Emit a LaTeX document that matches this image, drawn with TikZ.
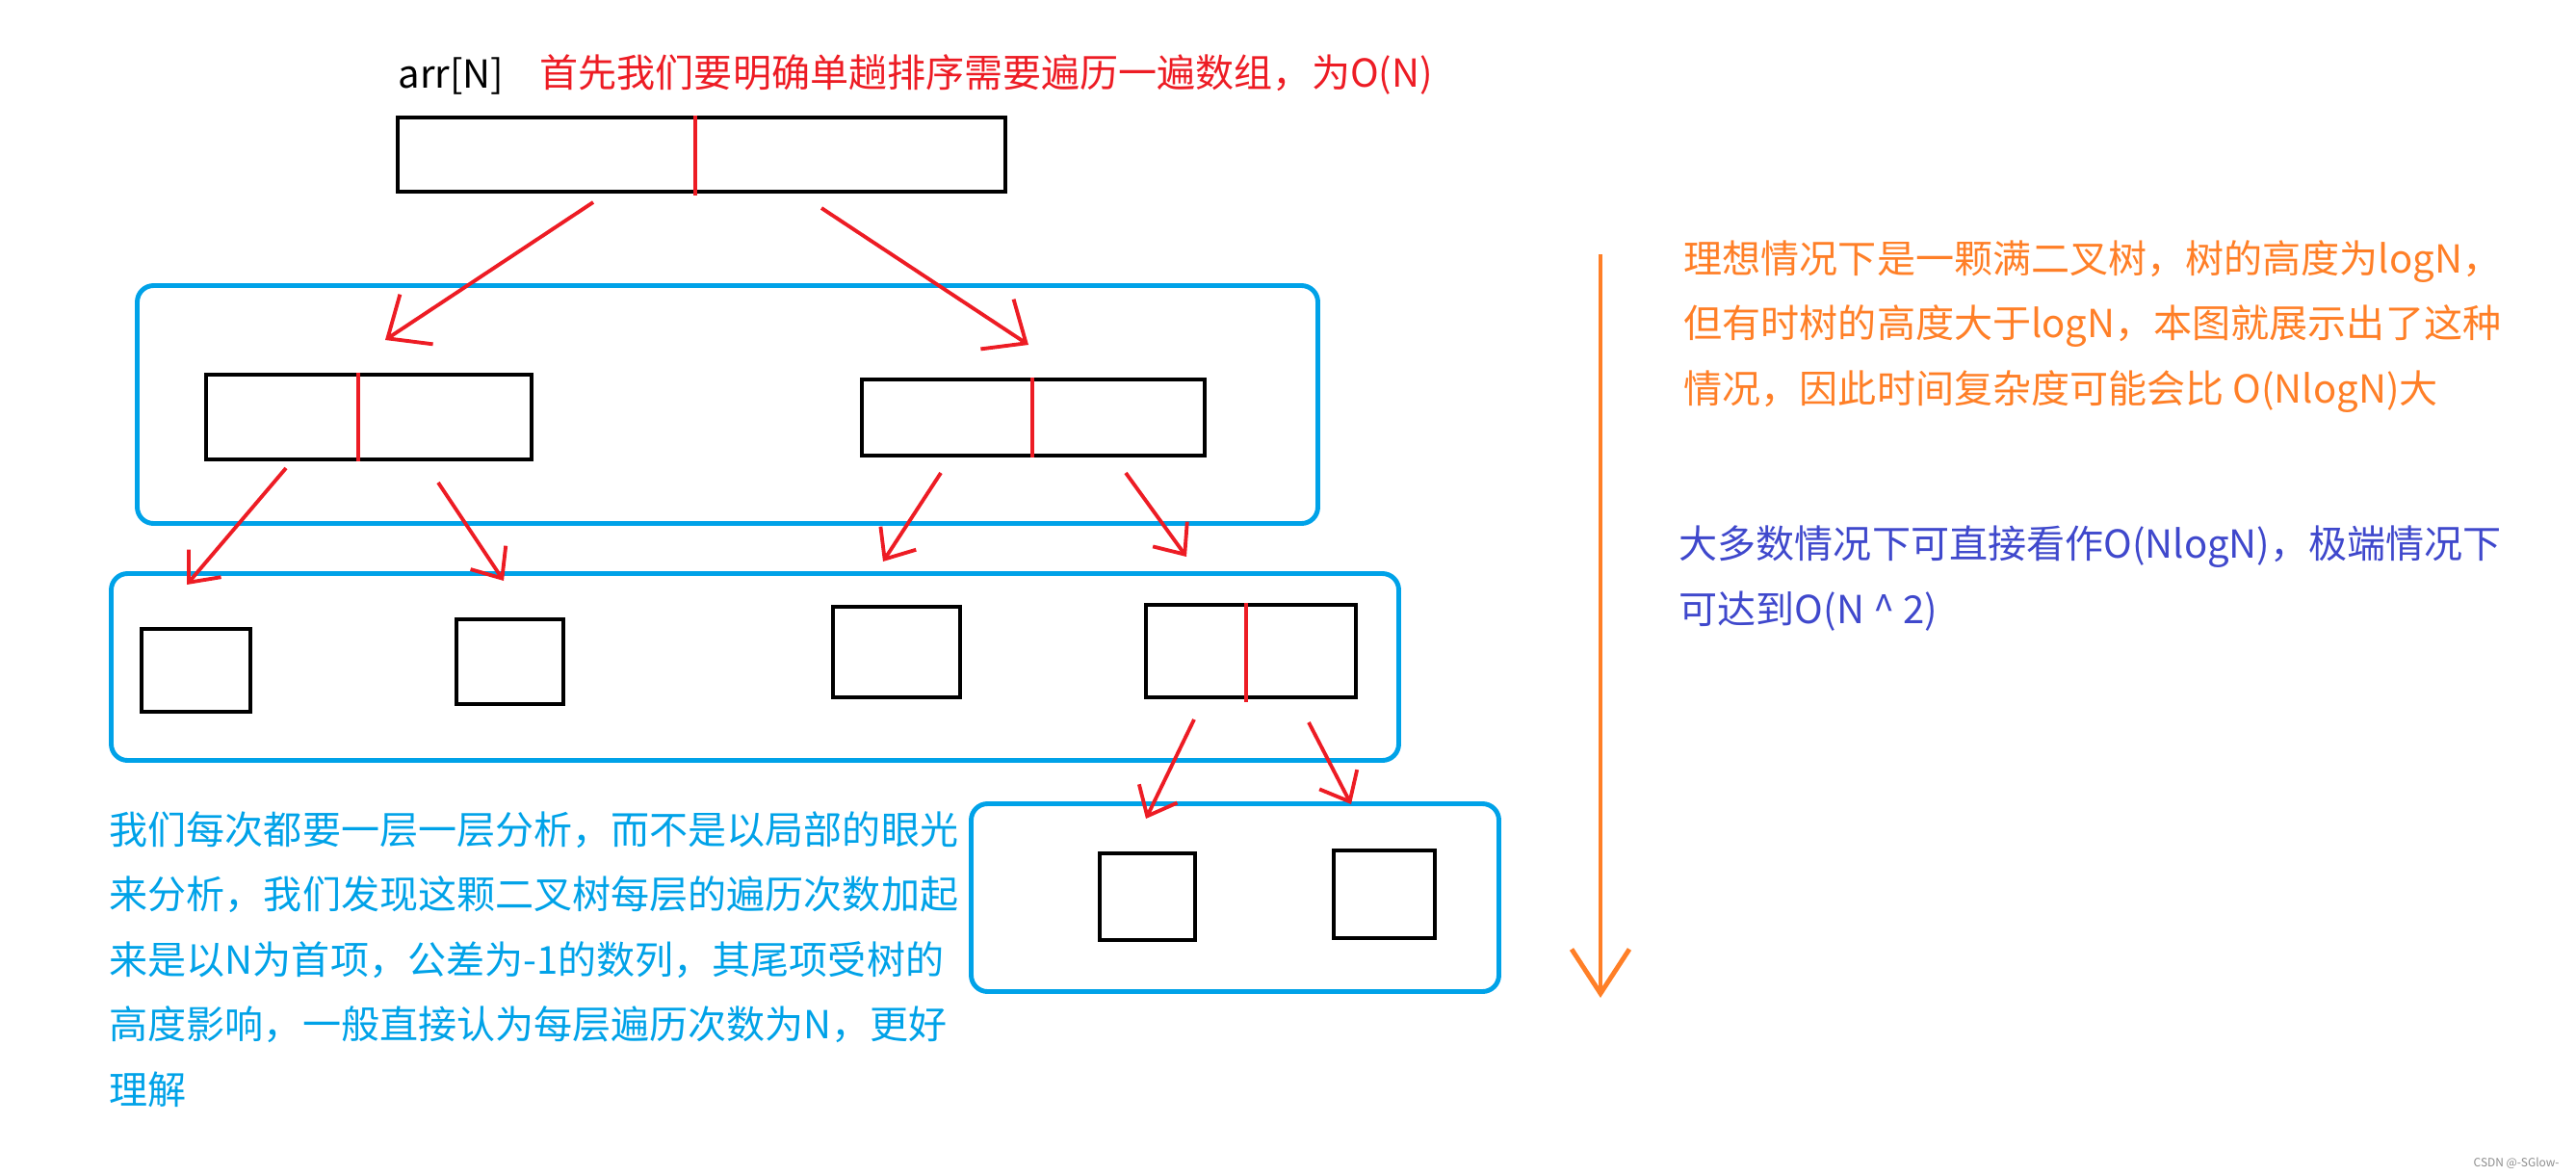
\documentclass[tikz,border=0pt]{standalone}
\usepackage{fontspec}
\setmainfont{Noto Sans CJK SC}
\usepackage{tikz}
\usetikzlibrary{arrows.meta}
\definecolor{pred}{HTML}{ED1C24}
\definecolor{pblue}{HTML}{00A2E8}
\definecolor{porange}{HTML}{FF7F27}
\definecolor{pindigo}{HTML}{3F48CC}

\begin{document}
\begin{tikzpicture}[
  font=\fontsize{11.4pt}{19.2pt}\selectfont,
  blk/.style={draw=black,line width=1.2pt,inner sep=0pt},
  grp/.style={draw=pblue,line width=1.4pt,rounded corners=1.7mm,inner sep=0pt},
  cut/.style={draw=pred,line width=1pt},
  a/.style={-{Straight Barb[length=3.6mm,width=6.2mm]},draw=pred,line width=1.1pt},
  asm/.style={-{Straight Barb[length=2.6mm,width=4.4mm]},draw=pred,line width=1.1pt},
  ao/.style={-{Straight Barb[length=4.6mm,width=6mm]},draw=porange,line width=1.4pt},
  txt/.style={anchor=base west,inner sep=0pt,align=left}]
\useasboundingbox (0,0) rectangle (26.75,-12.21);

% ------------------------------- top --------------------------------------
\node[txt] (nm)  at (4.13,-0.91) {arr[N]};
\node[txt,text=pred] (hd) at (5.60,-0.90) {首先我们要明确单趟排序需要遍历一遍数组，为O(N)};
\node[blk,minimum width=6.31cm,minimum height=0.77cm] (top) at (7.285,-1.605) {};
\draw[cut] ([xshift=-0.65mm]top.north) -- ([xshift=-0.65mm,yshift=-0.2mm]top.south);

% ------------------------------ level 1 -----------------------------------
\node[grp,minimum width=12.26cm,minimum height=2.47cm] (g1) at (7.555,-4.20) {};
\node[blk,minimum width=3.38cm,minimum height=0.88cm] (l1a) at (3.83,-4.33) {};
\node[blk,minimum width=3.56cm,minimum height=0.79cm] (l1b) at (10.73,-4.335) {};
\draw[cut] ([xshift=-1.1mm]l1a.north) -- ([xshift=-1.1mm]l1a.south);
\draw[cut] ([xshift=-0.1mm]l1b.north) -- ([xshift=-0.1mm]l1b.south);

% ------------------------------ level 2 -----------------------------------
\node[grp,minimum width=13.37cm,minimum height=1.94cm] (g2) at (7.84,-6.925) {};
\node[blk,minimum width=1.13cm,minimum height=0.86cm] (la) at (2.035,-6.96) {};
\node[blk,minimum width=1.11cm,minimum height=0.88cm] (lb) at (5.295,-6.87) {};
\node[blk,minimum width=1.32cm,minimum height=0.94cm] (lc) at (9.31,-6.77) {};
\node[blk,minimum width=2.18cm,minimum height=0.96cm] (ld) at (12.99,-6.76) {};
\draw[cut] ([xshift=-0.5mm]ld.north) -- ([xshift=-0.5mm,yshift=-0.3mm]ld.south);

% ------------------------------ level 3 -----------------------------------
\node[grp,minimum width=5.48cm,minimum height=1.95cm] (g3) at (12.825,-9.32) {};
\node[blk,minimum width=0.99cm,minimum height=0.90cm] (lg) at (11.915,-9.31) {};
\node[blk,minimum width=1.05cm,minimum height=0.91cm] (lh) at (14.375,-9.285) {};

% ------------------------------ arrows ------------------------------------
\coordinate (t1) at (6.16,-2.10);   \coordinate (t2) at (4.00,-3.53);
\coordinate (t3) at (8.53,-2.16);   \coordinate (t4) at (10.68,-3.58);
\coordinate (a1) at (2.97,-4.86);   \coordinate (a2) at (1.94,-6.07);
\coordinate (b1) at (4.55,-5.01);   \coordinate (b2) at (5.23,-6.03);
\coordinate (c1) at (9.77,-4.91);   \coordinate (c2) at (9.17,-5.83);
\coordinate (d1) at (11.69,-4.91);  \coordinate (d2) at (12.32,-5.78);
\coordinate (e1) at (12.40,-7.47);  \coordinate (e2) at (11.90,-8.50);
\coordinate (f1) at (13.59,-7.50);  \coordinate (f2) at (14.03,-8.35);
\draw[a] (t1) -- (t2);
\draw[a] (t3) -- (t4);
\draw[asm] (a1) -- (a2);
\draw[asm] (b1) -- (b2);
\draw[asm] (c1) -- (c2);
\draw[asm] (d1) -- (d2);
\draw[asm] (e1) -- (e2);
\draw[asm] (f1) -- (f2);

% depth axis
\coordinate (o1) at (16.62,-2.64);  \coordinate (o2) at (16.62,-10.36);
\draw[ao] (o1) -- (o2);

% ------------------------------- notes ------------------------------------
% base of a multi-line node sits on its last line
\node[txt,text=porange] (ideal) at (17.48,-4.18)
  {理想情况下是一颗满二叉树，树的高度为logN，\\
   但有时树的高度大于logN，本图就展示出了这种\\
   情况，因此时间复杂度可能会比 O(NlogN)大};
\node[txt,text=pindigo] (most) at (17.43,-6.47)
  {大多数情况下可直接看作O(NlogN)，极端情况下\\
   可达到O(N \textasciicircum{} 2)};
\node[txt,text=pblue] (layer) at (1.13,-11.46)
  {我们每次都要一层一层分析，而不是以局部的眼光\\
   来分析，我们发现这颗二叉树每层的遍历次数加起\\
   来是以N为首项，公差为-1的数列，其尾项受树的\\
   高度影响，一般直接认为每层遍历次数为N，更好\\
   理解};

\node[anchor=base west,inner sep=0pt,font=\fontsize{3.4pt}{4pt}\selectfont,text=black!45]
  (wm) at (25.68,-12.11) {CSDN @-SGlow-};
\end{tikzpicture}
\end{document}
